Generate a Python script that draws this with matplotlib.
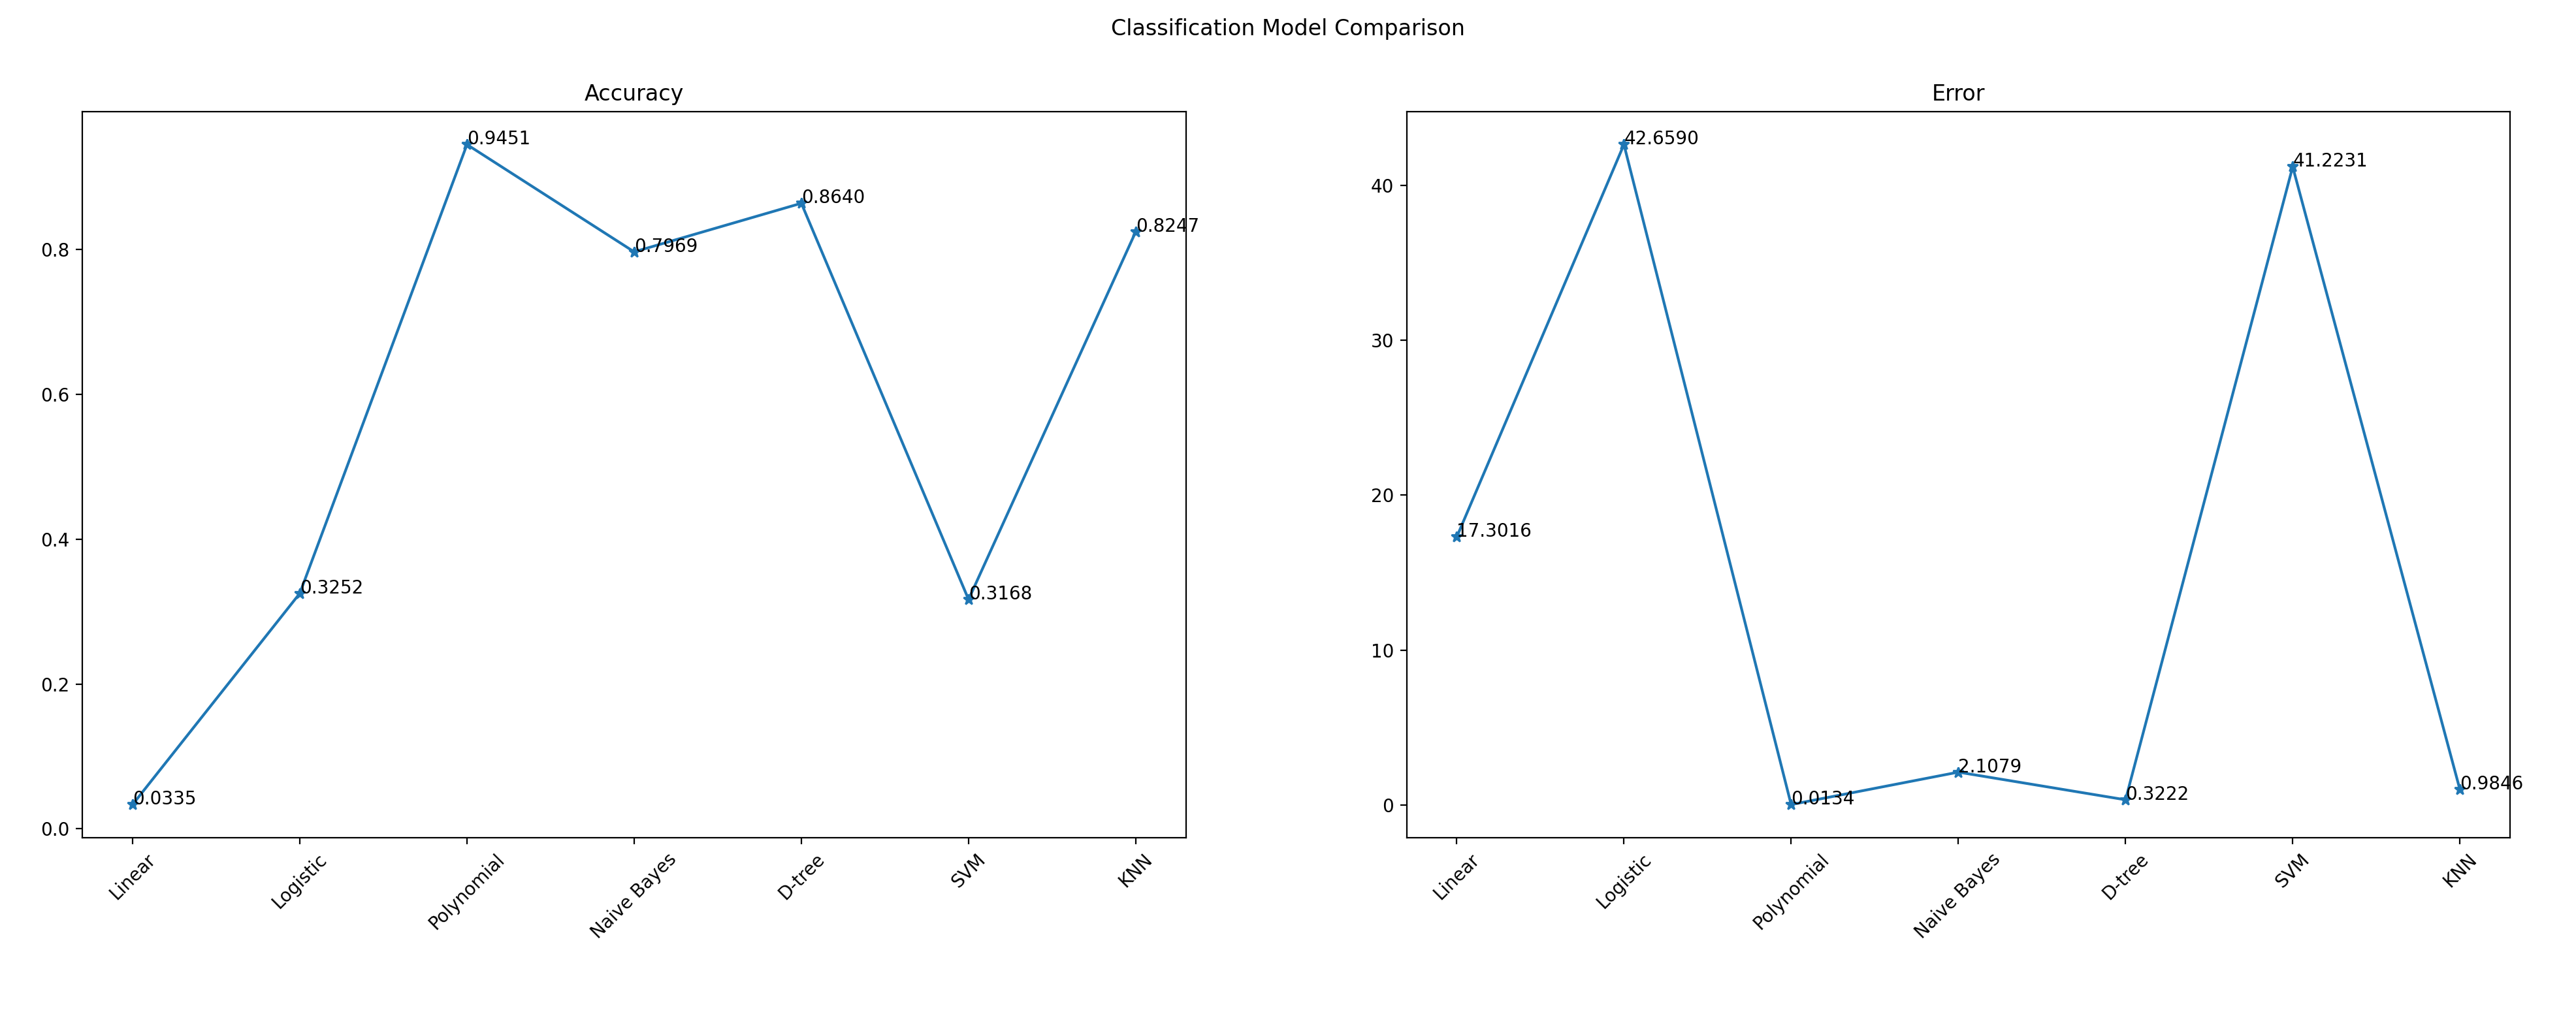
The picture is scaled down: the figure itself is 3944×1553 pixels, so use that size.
import matplotlib
matplotlib.use("Agg")
import matplotlib.pyplot as plt

models = ['Linear', 'Logistic', 'Polynomial', 'Naive Bayes', 'D-tree', 'SVM', 'KNN']
accuracy = [0.0335, 0.3252, 0.9451, 0.7969, 0.8640, 0.3168, 0.8247]
error = [17.3016, 42.6590, 0.0134, 2.1079, 0.3222, 41.2231, 0.9846]

fig, (ax1, ax2) = plt.subplots(1, 2, figsize=(19.72, 7.765), dpi=200)
fig.subplots_adjust(left=0.032, right=0.9744, top=0.89, bottom=0.174, wspace=0.2)
fig.suptitle("Classification Model Comparison", y=0.982)

for ax, vals, title in [(ax1, accuracy, "Accuracy"), (ax2, error, "Error")]:
    ax.plot(models, vals, marker='*')
    for i, v in enumerate(vals):
        ax.text(i, v, "%.4f" % v)
    ax.set_title(title)
    ax.tick_params(axis='x', rotation=45)

fig.savefig("out.png")
